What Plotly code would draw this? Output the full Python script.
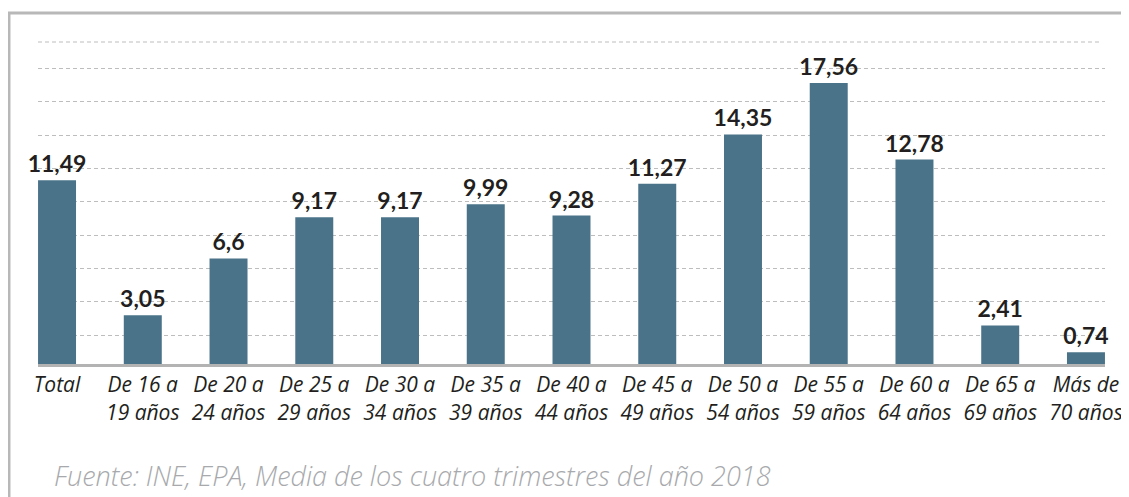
import plotly.graph_objects as go

categories = ["Total", "De 16 a<br>19 años", "De 20 a<br>24 años", "De 25 a<br>29 años",
              "De 30 a<br>34 años", "De 35 a<br>39 años", "De 40 a<br>44 años",
              "De 45 a<br>49 años", "De 50 a<br>54 años", "De 55 a<br>59 años",
              "De 60 a<br>64 años", "De 65 a<br>69 años", "Más de<br>70 años"]
values = [11.49, 3.05, 6.6, 9.17, 9.17, 9.99, 9.28, 11.27, 14.35, 17.56, 12.78, 2.41, 0.74]
labels = [str(v).replace(".", ",") for v in values]
source = "Fuente: INE, EPA, Media de los cuatro trimestres del año 2018"

BAR = "#4a7389"
DARK = "#231f20"
GRID = "#bdbdbd"

fig = go.Figure(go.Bar(
    x=list(range(len(categories))), y=values, text=labels,
    textposition="outside", cliponaxis=False, constraintext="none",
    textfont=dict(family="Lato", size=23, color=DARK, weight="bold"),
    marker=dict(color=BAR, line=dict(width=0)), width=0.443,
))

fig.update_layout(
    width=1129, height=497,
    margin=dict(l=30, r=32, t=34, b=141),
    paper_bgcolor="white", plot_bgcolor="white",
    showlegend=False,
    xaxis=dict(
        tickmode="array", tickvals=list(range(len(categories))), ticktext=categories,
        range=[-0.222, 12.222], showgrid=False, zeroline=False,
        showline=True, linecolor="#b3b3b3", linewidth=3,
        ticks="", tickfont=dict(family="Open Sans", size=21, color=DARK, style="italic"),
    ),
    yaxis=dict(
        range=[0, 20.125], showticklabels=False, zeroline=False,
        showgrid=True, gridcolor=GRID, griddash="4px,3px", gridwidth=1,
        tick0=1.8125, dtick=2.0833, ticks="",
    ),
    shapes=[
        dict(type="line", xref="paper", yref="paper", x0=0, x1=0.9944, y0=1, y1=1,
             line=dict(color=GRID, width=1, dash="4px,3px")),
        dict(type="rect", xref="paper", yref="paper", x0=-0.0272, x1=1.05, y0=-0.5, y1=1.09,
             line=dict(color="#b8b8b8", width=3), fillcolor="rgba(0,0,0,0)"),
    ],
    annotations=[
        dict(text=source, xref="paper", yref="paper", x=0.0131, y=-0.345,
             xanchor="left", yanchor="middle", showarrow=False,
             font=dict(family="Open Sans", size=27, color="#a7a9ac", style="italic", weight=300)),
    ],
)

fig.write_html("out.html")
